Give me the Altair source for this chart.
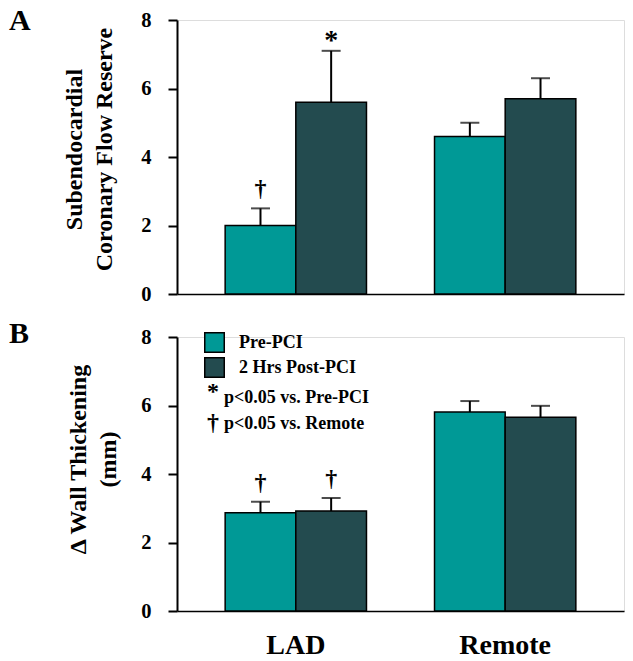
import altair as alt
import pandas as pd

groups = ["LAD", "Remote"]
conditions = ["Pre-PCI", "2 Hrs Post-PCI"]
bar_group = ["LAD", "LAD", "Remote", "Remote"]
bar_cond = ["Pre-PCI", "2 Hrs Post-PCI", "Pre-PCI", "2 Hrs Post-PCI"]

cfr_mean = [2.0, 5.6, 4.6, 5.7]
cfr_sem = [0.5, 1.5, 0.4, 0.6]
cfr_sig = ["†", "*", "", ""]

wt_mean = [2.87, 2.92, 5.81, 5.66]
wt_sem = [0.32, 0.38, 0.32, 0.33]
wt_sig = ["†", "†", "", ""]

y_ticks = [0, 2, 4, 6, 8]
colors = ["#009996", "#234B4F"]
note_symbols = ["*", "†"]
note_texts = ["p<0.05 vs. Pre-PCI", "p<0.05 vs. Remote"]

FONT = "Liberation Serif"
W, H = 447, 274


def panel(mean, sem, sig, ytitle, tsize, tline, title_pad, title_y, letter,
          letter_y, bottom):
    df = pd.DataFrame({"group": bar_group, "cond": bar_cond, "mean": mean,
                       "sem": sem, "sig": sig})
    df["top"] = df["mean"] + df["sem"]

    x = alt.X("group:N",
              scale=alt.Scale(domain=groups, paddingInner=0.325, paddingOuter=0.23),
              axis=alt.Axis(title=None, labels=bottom, ticks=False,
                            domainColor="black", domainWidth=1.5,
                            labelFont=FONT, labelFontSize=28, labelFontWeight="bold",
                            labelColor="black", labelPadding=20, labelAngle=0))
    xo = alt.XOffset("cond:N", scale=alt.Scale(domain=conditions, paddingInner=0,
                                                paddingOuter=0))
    yscale = alt.Scale(domain=[0, 8], nice=False)
    yaxis = alt.Axis(values=y_ticks, grid=False, title=ytitle,
                     domainColor="black", domainWidth=2,
                     tickColor="black", tickWidth=2, tickSize=9,
                     labelFont=FONT, labelFontSize=20.5, labelFontWeight="bold",
                     labelColor="black", labelPadding=17,
                     titleFont=FONT, titleFontSize=tsize, titleFontWeight="bold",
                     titleColor="black", titleLineHeight=tline,
                     titlePadding=title_pad, titleY=title_y)
    if bottom:
        legend = alt.Legend(orient="none", legendX=27, legendY=-5, title=None,
                            direction="vertical", symbolType="square",
                            symbolSize=380, symbolStrokeColor="black",
                            symbolStrokeWidth=1.5, symbolOpacity=1,
                            labelFont=FONT, labelFontSize=18,
                            labelFontWeight="bold", labelColor="black",
                            labelOffset=14, rowPadding=-2)
    else:
        legend = None
    color = alt.Color("cond:N", scale=alt.Scale(domain=conditions, range=colors),
                      legend=legend)

    base = alt.Chart(df)
    bars = base.mark_bar(stroke="black", strokeWidth=1.5, opacity=1).encode(
        x=x, xOffset=xo, y=alt.Y("mean:Q", scale=yscale, axis=yaxis), color=color)
    stems = base.mark_rule(color="black", strokeWidth=2).encode(
        x=x, xOffset=xo, y=alt.Y("mean:Q", scale=yscale, axis=yaxis), y2="top:Q")
    caps = base.mark_tick(color="black", thickness=2, size=19).encode(
        x=x, xOffset=xo, y=alt.Y("top:Q", scale=yscale, axis=yaxis))
    dag = base.transform_filter(alt.datum.sig == "†").mark_text(
        font=FONT, fontSize=24, fontWeight="bold", color="black",
        baseline="alphabetic", dy=-12).encode(
        x=x, xOffset=xo, y=alt.Y("top:Q", scale=yscale, axis=yaxis), text="sig:N")
    star = base.transform_filter(alt.datum.sig == "*").mark_text(
        font=FONT, fontSize=28, fontWeight="bold", color="black",
        baseline="alphabetic", dy=-2).encode(
        x=x, xOffset=xo, y=alt.Y("top:Q", scale=yscale, axis=yaxis), text="sig:N")
    let = alt.Chart(pd.DataFrame({"t": [letter]})).mark_text(
        font=FONT, fontSize=30, fontWeight="bold", color="black",
        align="left", baseline="alphabetic").encode(
        x=alt.value(-168), y=alt.value(letter_y), text="t:N")

    layers = [bars, stems, caps, dag, star, let]
    if bottom:
        ndf = pd.DataFrame({"sym": note_symbols, "txt": note_texts,
                            "k": [0, 1]})
        notes_sym_star = alt.Chart(ndf).transform_filter(alt.datum.k == 0).mark_text(
            font=FONT, fontSize=24, fontWeight="bold", color="black",
            align="center", baseline="alphabetic").encode(
            x=alt.value(36), y=alt.value(62), text="sym:N")
        notes_sym_dag = alt.Chart(ndf).transform_filter(alt.datum.k == 1).mark_text(
            font=FONT, fontSize=24, fontWeight="bold", color="black",
            align="center", baseline="alphabetic").encode(
            x=alt.value(36), y=alt.value(93), text="sym:N")
        notes_t1 = alt.Chart(ndf).transform_filter(alt.datum.k == 0).mark_text(
            font=FONT, fontSize=18, fontWeight="bold", color="black",
            align="left", baseline="alphabetic").encode(
            x=alt.value(47), y=alt.value(66), text="txt:N")
        notes_t2 = alt.Chart(ndf).transform_filter(alt.datum.k == 1).mark_text(
            font=FONT, fontSize=18, fontWeight="bold", color="black",
            align="left", baseline="alphabetic").encode(
            x=alt.value(47), y=alt.value(92), text="txt:N")
        layers += [notes_sym_star, notes_sym_dag, notes_t1, notes_t2]

    return alt.layer(*layers).properties(width=W, height=H)


top = panel(cfr_mean, cfr_sem, cfr_sig, ["Subendocardial", "Coronary Flow Reserve"],
            24, 30, 24, 129, "A", 10, False)
bot = panel(wt_mean, wt_sem, wt_sig, ["Δ Wall Thickening", "(mm)"],
            24, 30, 20, 122, "B", 6, True)

chart = alt.vconcat(top, bot, spacing=13).resolve_scale(
    color="independent").properties(
    padding={"top": -3, "left": 0, "right": 0, "bottom": 0}).configure_view(
    strokeWidth=0).configure(background="white")

chart.save("out.html", embed_options={"renderer": "svg", "actions": False})
